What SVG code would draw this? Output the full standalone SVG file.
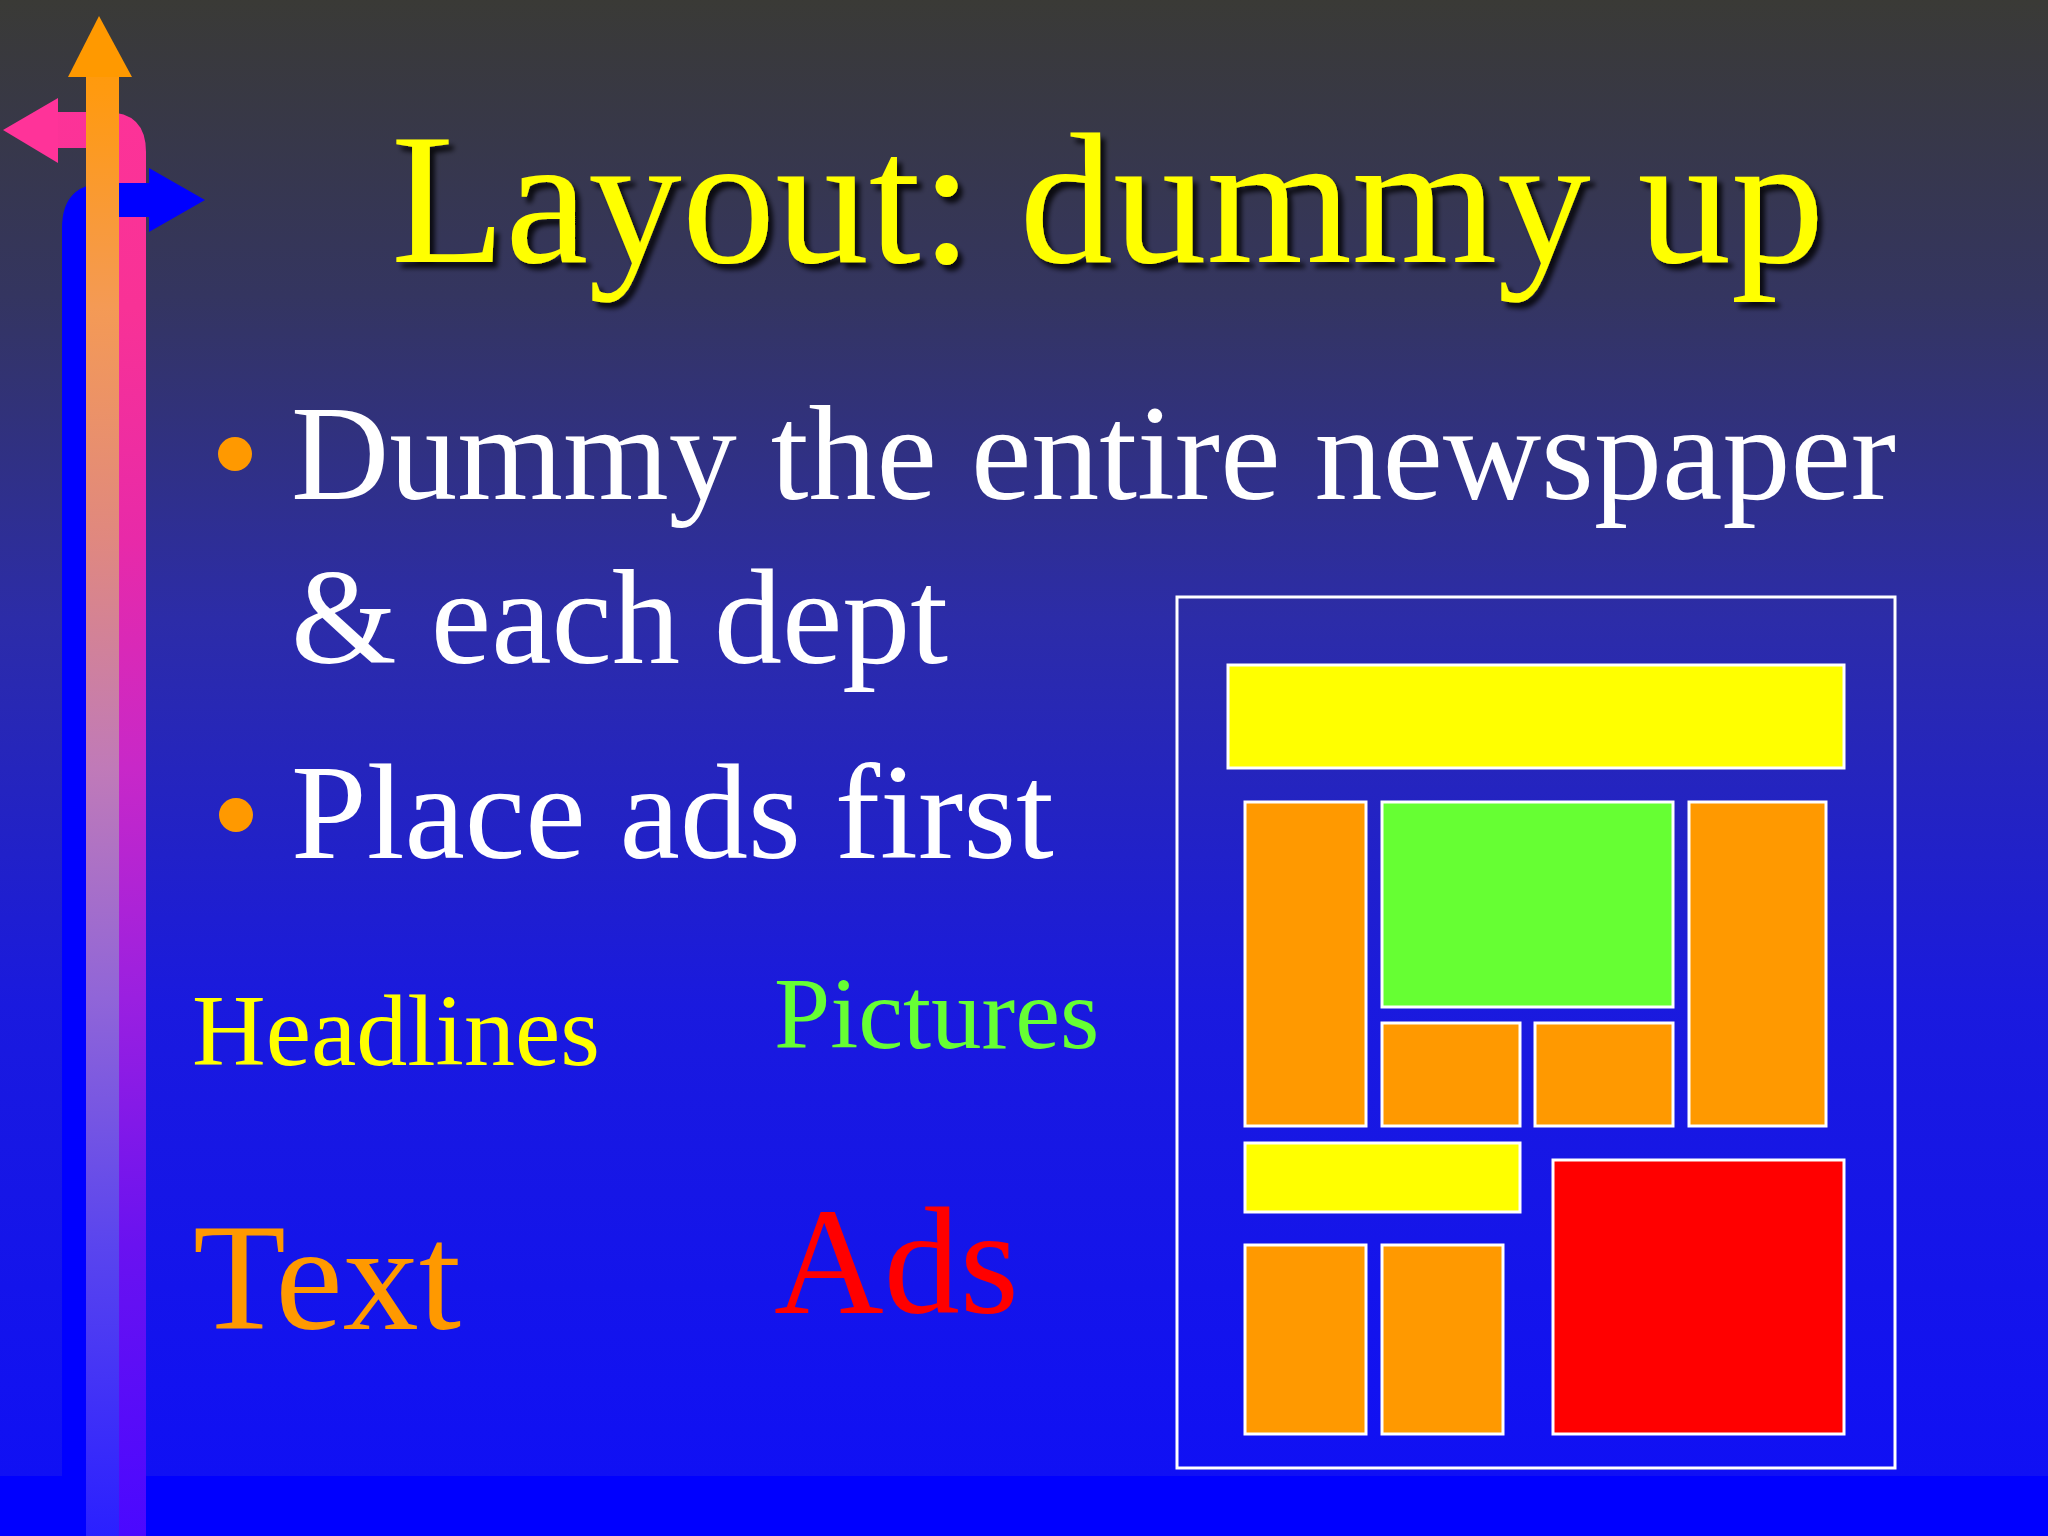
<svg xmlns="http://www.w3.org/2000/svg" width="2048" height="1536" viewBox="0 0 2048 1536">
  <defs>
    <linearGradient id="bg" x1="0" y1="0" x2="0" y2="1476" gradientUnits="userSpaceOnUse">
      <stop offset="0" stop-color="#3a3a36"/>
      <stop offset="0.2" stop-color="#343560"/>
      <stop offset="0.42" stop-color="#2c2ca8"/>
      <stop offset="0.68" stop-color="#1a1ade"/>
      <stop offset="1" stop-color="#1010f4"/>
    </linearGradient>
    <linearGradient id="gOrange" x1="0" y1="0" x2="0" y2="1536" gradientUnits="userSpaceOnUse">
      <stop offset="0" stop-color="#ff9900"/>
      <stop offset="0.06" stop-color="#ff9a10"/>
      <stop offset="0.2" stop-color="#f49a55"/>
      <stop offset="0.35" stop-color="#e0887f"/>
      <stop offset="0.5" stop-color="#c07ab8"/>
      <stop offset="0.65" stop-color="#9065d8"/>
      <stop offset="0.81" stop-color="#5a45ee"/>
      <stop offset="1" stop-color="#2a20ff"/>
    </linearGradient>
    <linearGradient id="gPink" x1="0" y1="0" x2="0" y2="1536" gradientUnits="userSpaceOnUse">
      <stop offset="0" stop-color="#ff3399"/>
      <stop offset="0.2" stop-color="#f83296"/>
      <stop offset="0.35" stop-color="#e82aa8"/>
      <stop offset="0.5" stop-color="#c828c8"/>
      <stop offset="0.65" stop-color="#9a20e0"/>
      <stop offset="0.81" stop-color="#6a12f0"/>
      <stop offset="1" stop-color="#4a08ff"/>
    </linearGradient>
    <filter id="shadow" x="-10%" y="-20%" width="120%" height="150%">
      <feDropShadow dx="5" dy="6" stdDeviation="2.5" flood-color="#000000" flood-opacity="0.8"/>
    </filter>
  </defs>
  <style>
    .serif { font-family: "Liberation Serif", "Times New Roman", serif; }
    .bullet-text { fill: #ffffff; font-size: 136px; }
    .dot { fill: #ff9900; }
    .box { stroke: #ffffff; stroke-width: 3; }
    .orange { fill: #ff9900; }
    .yellow { fill: #ffff00; }
  </style>

  <!-- background -->
  <rect x="0" y="0" width="2048" height="1476" fill="url(#bg)"/>
  <rect x="0" y="1476" width="2048" height="60" fill="#0000ff"/>

  <!-- decorative arrows -->
  <g id="arrows">
    <g id="pink-arrow">
      <path d="M58,112 H106 Q146,112 146,152 V1536 H110 V148 H58 Z" fill="url(#gPink)"/>
      <polygon points="58,98 3,130 58,163" fill="#ff3399"/>
    </g>
    <g id="blue-arrow">
      <path d="M149,183 H107 Q62,183 62,228 V1536 H98 V217 H149 Z" fill="#0000ff"/>
      <polygon points="149,168 205,200 149,232" fill="#0000ff"/>
    </g>
    <g id="orange-arrow">
      <rect x="86" y="76" width="33" height="1460" fill="url(#gOrange)"/>
      <polygon points="68,77 99,16 132,77" fill="#ff9900"/>
    </g>
  </g>

  <!-- title -->
  <g id="title">
    <text x="391" y="262" class="serif" font-size="187" fill="#ffff00" filter="url(#shadow)">Layout: dummy up</text>
  </g>

  <!-- bullets -->
  <g id="bullet1">
    <circle cx="235" cy="454" r="17" class="dot"/>
    <text class="serif bullet-text" x="291" y="499">Dummy the entire newspaper</text>
    <text class="serif bullet-text" x="291" y="663">&amp; each dept</text>
  </g>
  <g id="bullet2">
    <circle cx="236" cy="815" r="17" class="dot"/>
    <text class="serif bullet-text" x="291" y="858">Place ads first</text>
  </g>

  <!-- labels -->
  <g id="label-headlines">
    <text class="serif" x="192" y="1065" font-size="102" fill="#ffff00">Headlines</text>
  </g>
  <g id="label-pictures">
    <text class="serif" x="774" y="1048" font-size="101" fill="#66ff33">Pictures</text>
  </g>
  <g id="label-text">
    <text class="serif" x="193" y="1329" font-size="152" fill="#ff9900">Text</text>
  </g>
  <g id="label-ads">
    <text class="serif" x="774" y="1313" font-size="152" fill="#ff0000">Ads</text>
  </g>

  <!-- page dummy layout -->
  <g id="page-dummy">
    <rect x="1177" y="597" width="718" height="871" fill="none" class="box"/>
    <rect id="headline-top" x="1228" y="665" width="616" height="103" class="box yellow"/>
    <rect id="text-left" x="1245" y="802" width="121" height="324" class="box orange"/>
    <rect id="picture" x="1382" y="802" width="291" height="205" class="box" fill="#66ff33"/>
    <rect id="text-small-1" x="1382" y="1023" width="138" height="103" class="box orange"/>
    <rect id="text-small-2" x="1535" y="1023" width="138" height="103" class="box orange"/>
    <rect id="text-right" x="1689" y="802" width="137" height="324" class="box orange"/>
    <rect id="headline-small" x="1245" y="1143" width="275" height="69" class="box yellow"/>
    <rect id="ad" x="1553" y="1160" width="291" height="274" class="box" fill="#ff0000"/>
    <rect id="text-bottom-1" x="1245" y="1245" width="121" height="189" class="box orange"/>
    <rect id="text-bottom-2" x="1382" y="1245" width="121" height="189" class="box orange"/>
  </g>
</svg>
